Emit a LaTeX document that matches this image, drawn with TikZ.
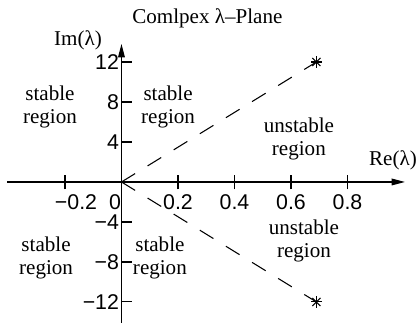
\documentclass[tikz,border=0pt]{standalone}
\usepackage{fontspec}
\setmainfont{Liberation Serif}
\setsansfont{Liberation Sans}
\usetikzlibrary{arrows.meta}
\tikzset{
  axisline/.style={-{Triangle[length=10pt,width=5pt]},line width=0.9pt},
  tickmark/.style={line width=0.8pt},
  ticklabel/.style={font=\sffamily\fontsize{16}{18}\selectfont,inner sep=0pt},
  lbl/.style={font=\fontsize{15.8}{18}\selectfont,inner sep=0pt},
  region/.style={lbl,font=\fontsize{15.8}{17.3}\selectfont,align=center},
  ray/.style={dash pattern=on 12pt off 11pt,line width=0.8pt},
  marker/.style={inner sep=0pt,minimum size=0pt},
  starline/.style={line width=0.8pt},
}
\begin{document}
\begin{tikzpicture}[x=211.9pt,y=7.5pt]
  \useasboundingbox (-0.430,-14.1) rectangle (1.0496,18.2);
  % axes
  \coordinate (O) at (0,0);
  \coordinate (xl) at (-0.405,0);
  \coordinate (xr) at (1.0035,0);
  \coordinate (yb) at (0,-14.1);
  \coordinate (yt) at (0,13.8);
  \draw[axisline] (xl) -- (xr);
  \draw[axisline] (yb) -- (yt);
  % ticks
  \foreach \v/\t in {-12/−12,-8/−8,-4/−4,4/4,8/8,12/12}{
    \draw[tickmark] (0,\v) -- ++(8pt,0);
    \node[ticklabel,anchor=east] at (-0.008,\v) {\t};
  }
  \foreach \v in {-0.2,0.2,0.4,0.6,0.8}{
    \draw[tickmark] (\v,0) ++(0,-5.5pt) -- ++(0,11pt);
  }
  \foreach \v/\t in {-0.161/−0.2,-0.023/0,0.2/0.2,0.4/0.4,0.6/0.6,0.8/0.8}{
    \node[ticklabel] at (\v,-2.0) {\t};
  }
  % eigenvalues
  \node[marker] (ptop) at (0.69,12) {};
  \node[marker] (pbot) at (0.69,-12) {};
  \foreach \p in {ptop,pbot}{
    \foreach \a in {0,45,...,315} \draw[starline] (\p.center) -- ++(\a:4.3pt);
  }
  \draw[ray] (O) -- (ptop);
  \draw[ray] (O) -- (pbot);
  % labels
  \node[lbl] (title) at (0.304,16.4) {Comlpex λ–Plane};
  \node[lbl] (imlbl) at (-0.154,14.2) {Im(λ)};
  \node[lbl] (relbl) at (0.961,2.2) {Re(λ)};
  \node[region] (sTL) at (-0.253,7.5) {stable\\region};
  \node[region] (sTM) at (0.165,7.5) {stable\\region};
  \node[region] (uT) at (0.628,4.3) {unstable\\region};
  \node[region] (sBL) at (-0.267,-7.6) {stable\\region};
  \node[region] (sBM) at (0.136,-7.6) {stable\\region};
  \node[region] (uB) at (0.646,-5.9) {unstable\\region};
\end{tikzpicture}
\end{document}
